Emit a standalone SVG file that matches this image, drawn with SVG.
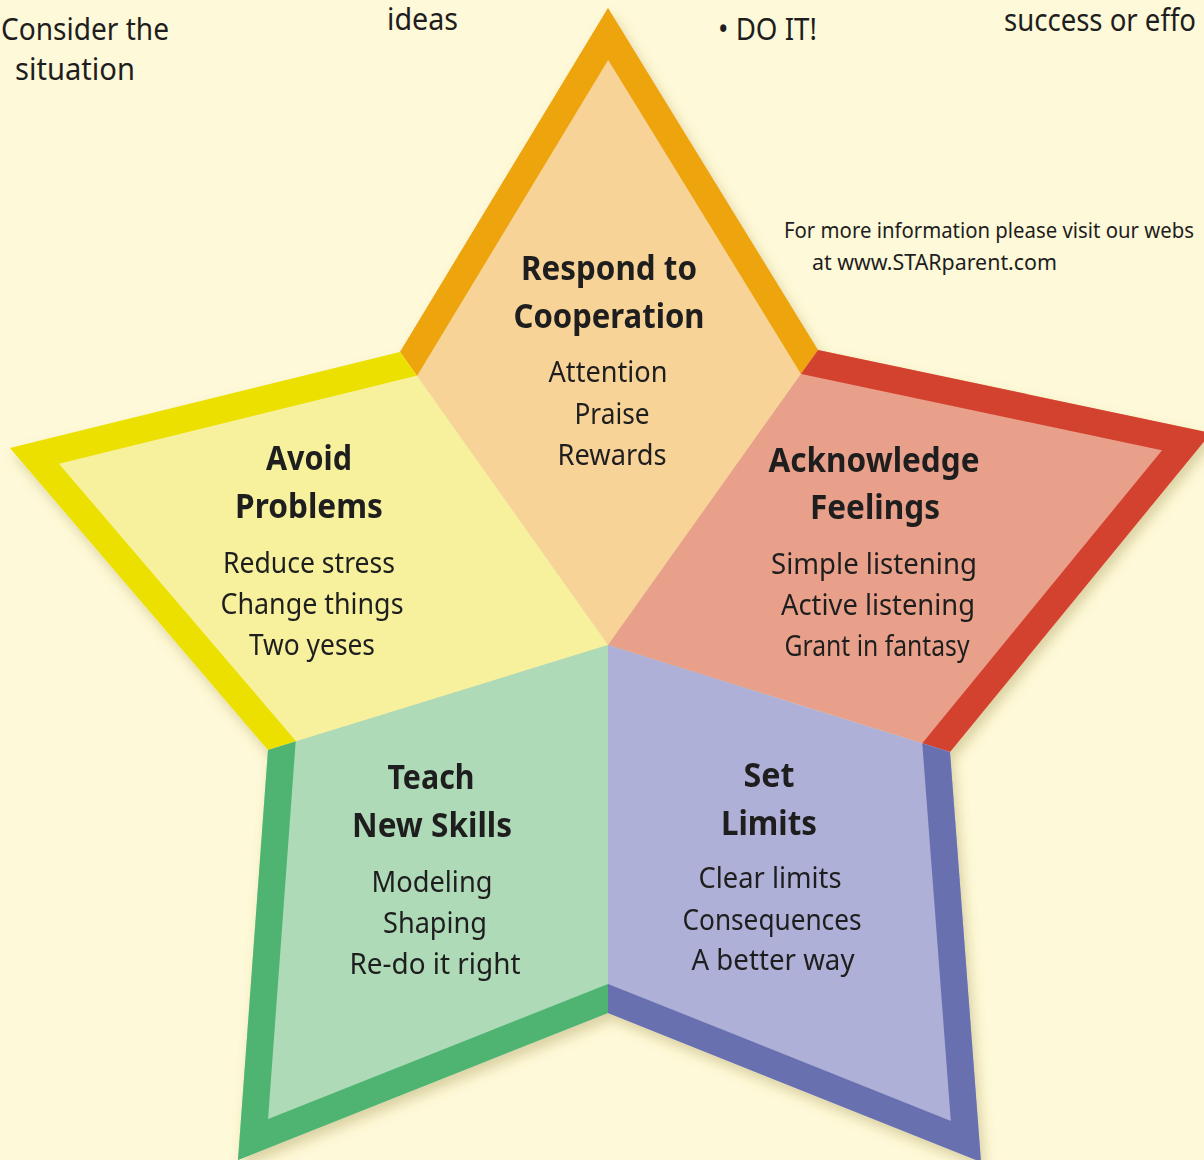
<svg xmlns="http://www.w3.org/2000/svg" width="1204" height="1160" viewBox="0 0 1204 1160">
<style>
text{font-family:"Noto Sans","Open Sans","Liberation Sans",sans-serif;fill:#1e1e1e;text-anchor:middle}
.h{font-weight:bold;font-size:34px}
.i{font-size:29px}
.top{font-size:30px;text-anchor:start}
.web{font-size:22px;text-anchor:start}
.bd{fill:none;stroke-width:54;stroke-linejoin:miter;stroke-miterlimit:10;stroke-linecap:square}
</style>
<defs>
<filter id="sh" x="-10%" y="-10%" width="120%" height="120%">
<feDropShadow dx="4" dy="7" stdDeviation="6" flood-color="#8a7a30" flood-opacity="0.3"/>
</filter>
<clipPath id="cTop"><polygon points="608,645 400,352 608,8 818,350"/></clipPath>
<clipPath id="cLeft"><polygon points="608,645 268,750 10,448 400,352"/></clipPath>
<clipPath id="cRight"><polygon points="608,645 818,350 1211,433 950,752"/></clipPath>
<clipPath id="cBL"><polygon points="608,645 608,1013 238,1160 268,750"/></clipPath>
<clipPath id="cBR"><polygon points="608,645 950,752 981,1162 608,1013"/></clipPath>
</defs>
<rect width="1204" height="1160" fill="#fef9d8"/>
<g id="outside-text">
<text class="top" x="1" y="40" textLength="168" lengthAdjust="spacingAndGlyphs">Consider the</text>
<text class="top" x="15" y="80" textLength="120" lengthAdjust="spacingAndGlyphs">situation</text>
<text class="top" x="387" y="30" textLength="71" lengthAdjust="spacingAndGlyphs">ideas</text>
<text class="top" x="718" y="40" textLength="99" lengthAdjust="spacingAndGlyphs">• DO IT!</text>
<text class="top" x="1004" y="31" textLength="192" lengthAdjust="spacingAndGlyphs">success or effo</text>
<text class="web" x="784" y="238" textLength="410" lengthAdjust="spacingAndGlyphs">For more information please visit our webs</text>
<text class="web" x="812" y="270" textLength="245" lengthAdjust="spacingAndGlyphs">at www.STARparent.com</text>
</g>
<g id="star" filter="url(#sh)">
<g id="respond">
<polygon points="608,645 400,352 608,8 818,350" fill="#f8d398"/>
<polyline class="bd" points="400,352 608,8 818,350" stroke="#eea40c" clip-path="url(#cTop)"/>
</g>
<g id="avoid">
<polygon points="608,645 268,750 10,448 400,352" fill="#f7f19e"/>
<polyline class="bd" points="268,750 10,448 400,352" stroke="#ebe000" clip-path="url(#cLeft)"/>
</g>
<g id="acknowledge">
<polygon points="608,645 818,350 1211,433 950,752" fill="#e9a08b"/>
<polyline class="bd" points="818,350 1211,433 950,752" stroke="#d3432d" clip-path="url(#cRight)"/>
</g>
<g id="teach">
<polygon points="608,645 608,1013 238,1160 268,750" fill="#aedab7"/>
<polyline class="bd" points="608,1013 238,1160 268,750" stroke="#4fb472" clip-path="url(#cBL)"/>
</g>
<g id="limits">
<polygon points="608,645 950,752 981,1162 608,1013" fill="#afb0d7"/>
<polyline class="bd" points="950,752 981,1162 608,1013" stroke="#6870b0" clip-path="url(#cBR)"/>
</g>
</g>
<g id="labels">
<text class="h" x="609" y="280" textLength="176" lengthAdjust="spacingAndGlyphs">Respond to</text>
<text class="h" x="609" y="328" textLength="191" lengthAdjust="spacingAndGlyphs">Cooperation</text>
<text class="i" x="608" y="382" textLength="119" lengthAdjust="spacingAndGlyphs">Attention</text>
<text class="i" x="612" y="424" textLength="75" lengthAdjust="spacingAndGlyphs">Praise</text>
<text class="i" x="612" y="465" textLength="109" lengthAdjust="spacingAndGlyphs">Rewards</text>

<text class="h" x="309" y="470" textLength="86" lengthAdjust="spacingAndGlyphs">Avoid</text>
<text class="h" x="309" y="518" textLength="148" lengthAdjust="spacingAndGlyphs">Problems</text>
<text class="i" x="309" y="573" textLength="172" lengthAdjust="spacingAndGlyphs">Reduce stress</text>
<text class="i" x="312" y="614" textLength="183" lengthAdjust="spacingAndGlyphs">Change things</text>
<text class="i" x="312" y="655" textLength="126" lengthAdjust="spacingAndGlyphs">Two yeses</text>

<text class="h" x="874" y="472" textLength="211" lengthAdjust="spacingAndGlyphs">Acknowledge</text>
<text class="h" x="875" y="519" textLength="130" lengthAdjust="spacingAndGlyphs">Feelings</text>
<text class="i" x="874" y="574" textLength="206" lengthAdjust="spacingAndGlyphs">Simple listening</text>
<text class="i" x="878" y="615" textLength="194" lengthAdjust="spacingAndGlyphs">Active listening</text>
<text class="i" x="877" y="656" textLength="185" lengthAdjust="spacingAndGlyphs">Grant in fantasy</text>

<text class="h" x="431" y="789" textLength="87" lengthAdjust="spacingAndGlyphs">Teach</text>
<text class="h" x="432" y="837" textLength="160" lengthAdjust="spacingAndGlyphs">New Skills</text>
<text class="i" x="432" y="892" textLength="121" lengthAdjust="spacingAndGlyphs">Modeling</text>
<text class="i" x="435" y="933" textLength="104" lengthAdjust="spacingAndGlyphs">Shaping</text>
<text class="i" x="435" y="974" textLength="171" lengthAdjust="spacingAndGlyphs">Re-do it right</text>

<text class="h" x="769" y="787" textLength="51" lengthAdjust="spacingAndGlyphs">Set</text>
<text class="h" x="769" y="835" textLength="96" lengthAdjust="spacingAndGlyphs">Limits</text>
<text class="i" x="770" y="888" textLength="143" lengthAdjust="spacingAndGlyphs">Clear limits</text>
<text class="i" x="772" y="930" textLength="179" lengthAdjust="spacingAndGlyphs">Consequences</text>
<text class="i" x="773" y="970" textLength="163" lengthAdjust="spacingAndGlyphs">A better way</text>
</g>
</svg>
